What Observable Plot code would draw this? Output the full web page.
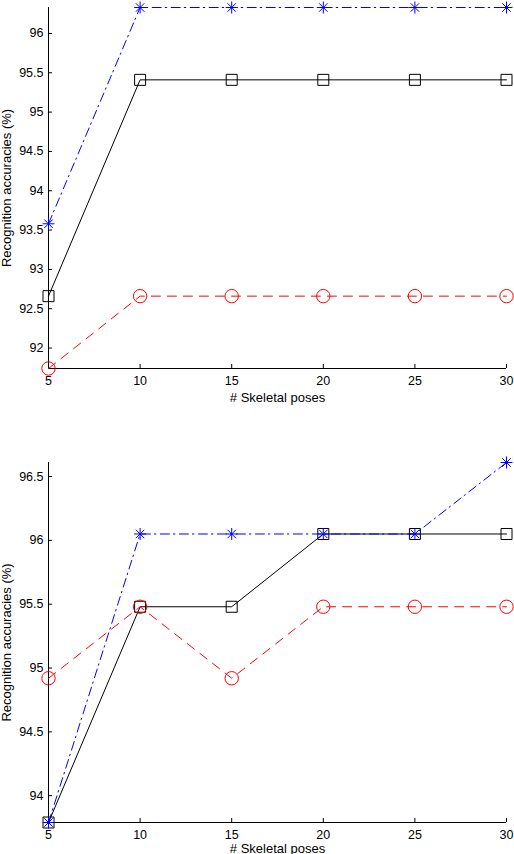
<!DOCTYPE html>
<html>
<head>
<meta charset="utf-8">
<script src="https://cdn.jsdelivr.net/npm/d3@7"></script>
<script src="https://cdn.jsdelivr.net/npm/@observablehq/plot@0.6"></script>
<style>
  html, body { margin: 0; padding: 0; background: #fff; }
  svg { display: block; }
</style>
</head>
<body>
<div id="chart"></div>
<script>
// ---- data ----
const poses = [5, 10, 15, 20, 25, 30];

// top panel
const topBlack = [92.66, 95.41, 95.41, 95.41, 95.41, 95.41];
const topRed   = [91.74, 92.66, 92.66, 92.66, 92.66, 92.66];
const topBlue  = [93.58, 96.33, 96.33, 96.33, 96.33, 96.33];
const topYTicks = [92, 92.5, 93, 93.5, 94, 94.5, 95, 95.5, 96];

// bottom panel
const botBlack = [93.79, 95.48, 95.48, 96.05, 96.05, 96.05];
const botRed   = [94.92, 95.48, 94.92, 95.48, 95.48, 95.48];
const botBlue  = [93.79, 96.05, 96.05, 96.05, 96.05, 96.61];
const botYTicks = [94, 94.5, 95, 95.5, 96, 96.5];

const xTicks = [5, 10, 15, 20, 25, 30];
const xLabel = "# Skeletal poses";
const yLabel = "Recognition accuracies (%)";

// ---- marker symbols (MATLAB-like) ----
const asterisk = {draw(ctx, size) {
  const r = Math.sqrt(size / Math.PI), d = r * Math.SQRT1_2;
  ctx.moveTo(-r, 0); ctx.lineTo(r, 0);
  ctx.moveTo(0, -r); ctx.lineTo(0, r);
  ctx.moveTo(-d, -d); ctx.lineTo(d, d);
  ctx.moveTo(-d, d); ctx.lineTo(d, -d);
}};
const square = {draw(ctx, size) {
  const r = Math.sqrt(size / Math.PI);
  ctx.moveTo(-r, -r); ctx.lineTo(r, -r); ctx.lineTo(r, r); ctx.lineTo(-r, r); ctx.closePath();
}};
const ring = {draw(ctx, size) {
  const r = Math.sqrt(size / Math.PI);
  ctx.moveTo(r, 0); ctx.arc(0, 0, r, 0, 2 * Math.PI);
}};

const series = (vals) => poses.map((p, i) => ({x: p, y: vals[i]}));
const fmt = (d) => `${d}`;

function panel(black, red, blue, yTicks, {height, marginTop, marginBottom, xLabelOffset}) {
  const all = [...black, ...red, ...blue];
  const yDomain = d3.extent(all);
  const B = series(black), R = series(red), U = series(blue);
  return Plot.plot({
    width: 514,
    height,
    marginLeft: 48,
    marginRight: 8,
    marginTop,
    marginBottom,
    style: {fontFamily: "'Liberation Sans', Arial, sans-serif", fontSize: "13px", background: "#fff", display: "block", overflow: "visible"},
    x: {domain: [5, 30]},
    y: {domain: yDomain},
    marks: [
      Plot.axisX(xTicks, {tickSize: -4, tickPadding: 12, fontSize: 12.5, tickFormat: fmt, label: null, stroke: "black"}),
      Plot.axisY(yTicks, {tickSize: -4, tickPadding: 9, fontSize: 12.5, tickFormat: fmt, label: null, stroke: "black"}),
      Plot.axisX([], {tickSize: 0, label: xLabel, labelAnchor: "center", labelArrow: "none", labelOffset: xLabelOffset, fontSize: 13}),
      Plot.axisY([], {tickSize: 0, label: yLabel, labelAnchor: "center", labelArrow: "none", labelOffset: 47, fontSize: 13}),
      Plot.ruleX([5], {stroke: "black", strokeWidth: 1}),
      Plot.ruleY([yDomain[0]], {stroke: "black", strokeWidth: 1}),
      // black solid + squares
      Plot.line(B, {x: "x", y: "y", stroke: "black", strokeWidth: 1}),
      Plot.dot(B, {x: "x", y: "y", symbol: square, r: 5.5, stroke: "black", strokeWidth: 1, fill: "none"}),
      // red dashed + circles
      Plot.line(R, {x: "x", y: "y", stroke: "#ff0000", strokeWidth: 1, strokeDasharray: "9,7"}),
      Plot.dot(R, {x: "x", y: "y", symbol: ring, r: 6.7, stroke: "#ff0000", strokeWidth: 1, fill: "none"}),
      // blue dash-dot + asterisks
      Plot.line(U, {x: "x", y: "y", stroke: "#0000ff", strokeWidth: 1, strokeDasharray: "9,4,1.5,4.5"}),
      Plot.dot(U, {x: "x", y: "y", symbol: asterisk, r: 6, stroke: "#0000ff", strokeWidth: 1, fill: "none"})
    ]
  });
}

const root = document.getElementById("chart");
root.appendChild(panel(topBlack, topRed, topBlue, topYTicks, {height: 430, marginTop: 7, marginBottom: 62, xLabelOffset: 33}));
root.appendChild(panel(botBlack, botRed, botBlue, botYTicks, {height: 424, marginTop: 32, marginBottom: 32, xLabelOffset: 30}));
</script>
</body>
</html>
